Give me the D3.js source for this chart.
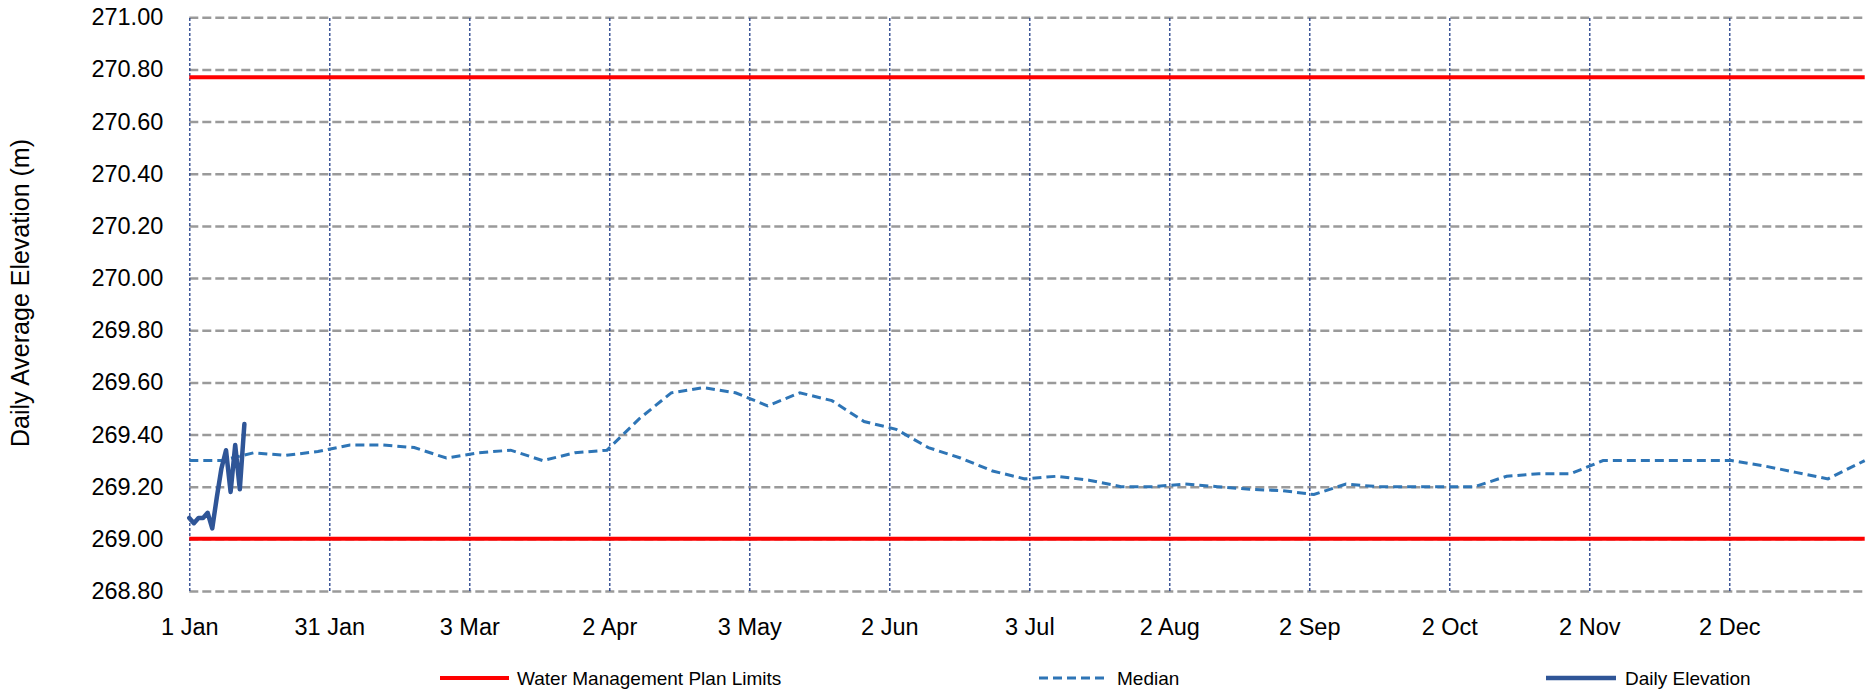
<!DOCTYPE html>
<html>
<head>
<meta charset="utf-8">
<script src="https://cdn.jsdelivr.net/npm/d3@7/dist/d3.min.js"></script>
<style>
  html, body { margin: 0; padding: 0; background: #ffffff; }
  svg { display: block; }
  text { font-family: "Liberation Sans", Arial, sans-serif; fill: #000; }
</style>
</head>
<body>
<svg id="chart" width="1873" height="689"></svg>
<script>
// ---- data ----
const yTicks = [268.8, 269.0, 269.2, 269.4, 269.6, 269.8, 270.0, 270.2, 270.4, 270.6, 270.8, 271.0];
const xTickDays = [0, 30.5, 61, 91.5, 122, 152.5, 183, 213.5, 244, 274.5, 305, 335.5];
const xTickLabels = ["1 Jan", "31 Jan", "3 Mar", "2 Apr", "3 May", "2 Jun", "3 Jul", "2 Aug", "2 Sep", "2 Oct", "2 Nov", "2 Dec"];

const limitUpper = 270.77;
const limitLower = 269.00;

const medianDays = [0, 7, 14, 21, 28, 35, 42, 49, 56, 63, 70, 77, 84, 91,
  98, 105, 112, 119, 126, 133, 140, 147, 154, 161, 168, 175, 182,
  189, 196, 203, 210, 217, 224, 231, 238, 245, 252, 259, 266, 273,
  280, 287, 294, 301, 308, 315, 322, 329, 336, 343, 350, 357, 365];
const medianValues = [269.30, 269.30, 269.33, 269.32, 269.335, 269.36, 269.36, 269.35, 269.31, 269.33, 269.34, 269.30, 269.33, 269.34,
  269.46, 269.56, 269.58, 269.56, 269.51, 269.56, 269.53, 269.45, 269.42, 269.35, 269.31, 269.26, 269.23,
  269.24, 269.225, 269.20, 269.20, 269.21, 269.20, 269.19, 269.185, 269.17, 269.21, 269.20, 269.20, 269.20,
  269.20, 269.24, 269.25, 269.25, 269.30, 269.30, 269.30, 269.30, 269.30, 269.28, 269.255, 269.23, 269.30];

const dailyDays = [0, 1, 2, 3, 4, 5, 6, 7, 8, 9, 10, 11, 12];
const dailyValues = [269.08, 269.06, 269.08, 269.08, 269.10, 269.04, 269.16, 269.27, 269.34, 269.18, 269.36, 269.19, 269.44];

const legendLabels = ["Water Management Plan Limits", "Median", "Daily Elevation"];

// ---- chart ----
const svg = d3.select("#chart");
const x = d3.scaleLinear().domain([0, 365]).range([189.3, 1864.7]);
const y = d3.scaleLinear().domain([268.8, 271.0]).range([591, 17.3]);

const colRed = "#ff0000", colMedian = "#2e75b6", colDaily = "#2f5597";

// horizontal gridlines
const gy = svg.append("g").attr("transform", `translate(${x(0)},0)`)
  .call(d3.axisLeft(y).tickValues(yTicks).tickSize(-(x(365) - x(0))).tickFormat(d3.format(".2f")).tickPadding(26));
gy.select(".domain").remove();
gy.selectAll(".tick line").attr("stroke", "#9a9a9a").attr("stroke-width", 2.5).attr("stroke-dasharray", "9,4");
gy.selectAll(".tick text").style("font-size", "23.5px").attr("fill", "#000");

// vertical gridlines
const gx = svg.append("g").attr("transform", `translate(0,${y(268.8)})`)
  .call(d3.axisBottom(x).tickValues(xTickDays).tickSize(-(y(268.8) - y(271.0)))
    .tickFormat((d, i) => xTickLabels[i]).tickPadding(27));
gx.select(".domain").remove();
gx.selectAll(".tick line").attr("stroke", "#1f3c88").attr("stroke-width", 1.3).attr("stroke-dasharray", "3,2");
gx.selectAll(".tick text").style("font-size", "23.5px").attr("fill", "#000");

// limits
[limitUpper, limitLower].forEach(v => {
  svg.append("line")
    .attr("x1", x(0)).attr("x2", x(365))
    .attr("y1", y(v)).attr("y2", y(v))
    .attr("stroke", colRed).attr("stroke-width", 4);
});

// median
const line = d3.line().x(d => x(d[0])).y(d => y(d[1]));
svg.append("path")
  .datum(medianDays.map((d, i) => [d, medianValues[i]]))
  .attr("d", line)
  .attr("fill", "none").attr("stroke", colMedian).attr("stroke-width", 3)
  .attr("stroke-dasharray", "9,5");

// daily
svg.append("path")
  .datum(dailyDays.map((d, i) => [d, dailyValues[i]]))
  .attr("d", line)
  .attr("fill", "none").attr("stroke", colDaily).attr("stroke-width", 4.5)
  .attr("stroke-linejoin", "round").attr("stroke-linecap", "round");

// y axis title
svg.append("text")
  .attr("transform", "translate(29,293) rotate(-90)")
  .attr("text-anchor", "middle")
  .style("font-size", "25px")
  .text("Daily Average Elevation (m)");

// legend
const legend = [
  { x1: 440, x2: 509, tx: 517, color: colRed, w: 4, dash: null },
  { x1: 1039, x2: 1107, tx: 1117, color: colMedian, w: 3, dash: "9,5" },
  { x1: 1546, x2: 1616, tx: 1625, color: colDaily, w: 4.5, dash: null }
];
const ly = 678;
legend.forEach((l, i) => {
  const ln = svg.append("line").attr("x1", l.x1).attr("x2", l.x2).attr("y1", ly).attr("y2", ly)
    .attr("stroke", l.color).attr("stroke-width", l.w);
  if (l.dash) ln.attr("stroke-dasharray", l.dash);
  svg.append("text").attr("x", l.tx).attr("y", ly).attr("dy", "0.35em")
    .style("font-size", "19px").text(legendLabels[i]);
});
</script>
</body>
</html>
